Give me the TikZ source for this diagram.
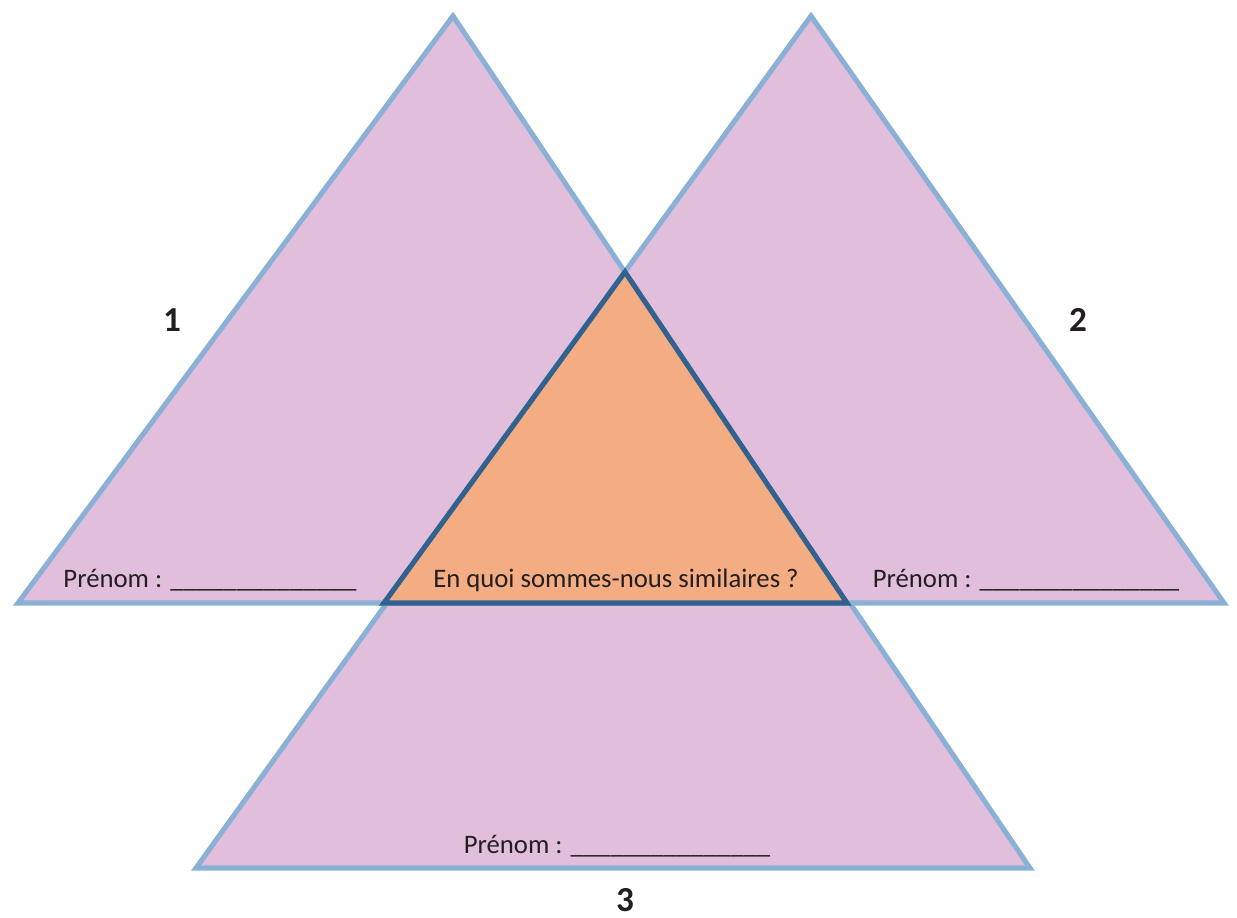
\documentclass[tikz,border=0pt]{standalone}
\usepackage{fontspec}
\setmainfont{Carlito}
\usetikzlibrary{positioning}

\definecolor{lilac}{HTML}{E1BFDC}
\definecolor{edgeblue}{HTML}{8AB0D6}
\definecolor{peach}{HTML}{F4AC82}
\definecolor{deepblue}{HTML}{30618F}
\definecolor{inkgrey}{HTML}{231F20}

\begin{document}
\begin{tikzpicture}[
    x=0.025cm, y=-0.025cm,
    outer/.style={draw=edgeblue, fill=lilac, line width=3.6pt},
    inner/.style={draw=deepblue, fill=peach, line width=3.6pt},
    namefield/.style={font=\fontsize{19}{22}\selectfont, text=inkgrey, inner sep=0pt},
    number/.style={font=\fontsize{25}{28}\selectfont\bfseries, text=inkgrey, inner sep=0pt},
]
    \useasboundingbox (0,0) rectangle (1237,918);

    % corners of the three outer triangles
    \coordinate (top1) at (453,16);
    \coordinate (left1) at (18,603);
    \coordinate (right1) at (847,603);
    \coordinate (top2) at (811,16);
    \coordinate (left2) at (384,603);
    \coordinate (right2) at (1224,603);
    \coordinate (top3) at (625,272);
    \coordinate (left3) at (196,868);
    \coordinate (right3) at (1030,868);

    % bottom one first, so the upper two hide its top edges
    \filldraw[outer] (top3) -- (left3) -- (right3) -- cycle;
    \filldraw[outer] (top1) -- (left1) -- (right1) -- cycle;
    \filldraw[outer] (top2) -- (left2) -- (right2) -- cycle;
    % shared middle part
    \filldraw[inner] (top3) -- (left2) -- (right1) -- cycle;

    \node[namefield] (first) at (210,580) {Prénom : \_\_\_\_\_\_\_\_\_\_\_\_\_\_};
    \node[namefield] (second) at (1026,580) {Prénom : \_\_\_\_\_\_\_\_\_\_\_\_\_\_\_};
    \node[namefield] (third) at (617,846) {Prénom : \_\_\_\_\_\_\_\_\_\_\_\_\_\_\_};
    \node[namefield] (question) at (616,580) {En quoi sommes-nous similaires ?};

    \node[number] (num1) at (172,320) {1};
    \node[number] (num2) at (1078,320) {2};
    \node[number] (num3) at (625,900) {3};
\end{tikzpicture}
\end{document}
